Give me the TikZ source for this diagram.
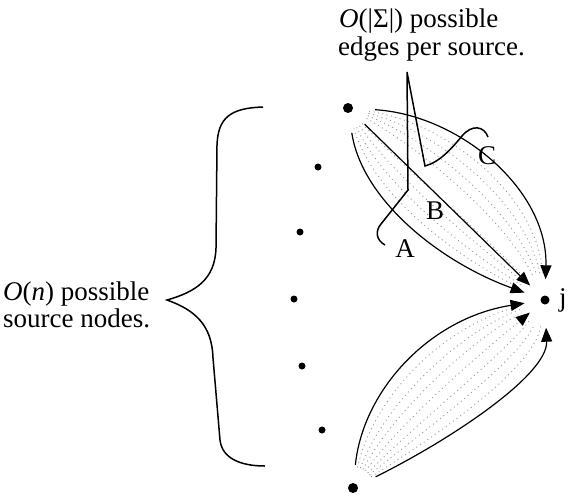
\documentclass[tikz,border=0pt]{standalone}
\usepackage{fontspec}
\setmainfont{Liberation Serif}
\usetikzlibrary{arrows.meta,calc}
\begin{document}
\begin{tikzpicture}[x=1pt,y=-1pt,
  bigdot/.style={circle,fill=black,inner sep=0pt,minimum size=10pt},
  smalldot/.style={circle,fill=black,inner sep=0pt,minimum size=7pt},
  edge/.style={line width=1.2pt,-{Triangle[length=14pt,width=11pt]}},
  fan/.style={gray!80,line width=0.9pt,dash pattern=on 1pt off 3.5pt},
  lbl/.style={font=\fontsize{27}{28}\selectfont,inner sep=0pt},
  thick line/.style={line width=1.5pt}]
\useasboundingbox (0,0) rectangle (569,499);
% nodes
\node[bigdot] (s1) at (348,108) {};
\node[smalldot] (d2) at (318,167) {};
\node[smalldot] (d3) at (300,232) {};
\node[smalldot] (d4) at (294,299) {};
\node[smalldot] (d5) at (302,366) {};
\node[smalldot] (d6) at (322,430) {};
\node[bigdot] (s7) at (353,488) {};
\node[bigdot,minimum size=9pt] (j) at (545,300) {};
\node[lbl,anchor=west] (jl) at (559,300) {j};
% control points of the top family
\coordinate (a1) at (362,200); \coordinate (a2) at (440,262);
\coordinate (c1) at (460,115); \coordinate (c2) at (548,190);
% control points of the bottom family
\coordinate (l1) at (363,390); \coordinate (l2) at (430,318);
\coordinate (r1) at (450,440); \coordinate (r2) at (548,375);
% dotted fans
\foreach \t in {0.1,0.2,0.3,0.4,0.6,0.7,0.8,0.9}{
  \draw[fan,shorten <=16pt,shorten >=22pt] (s1) .. controls ($(a1)!\t!(c1)$) and ($(a2)!\t!(c2)$) .. (j);
}
\foreach \t in {0.12,0.25,0.37,0.63,0.75,0.88}{
  \draw[fan,shorten <=16pt,shorten >=22pt] (s7) .. controls ($(l1)!\t!(r1)$) and ($(l2)!\t!(r2)$) .. (j);
}
\draw[fan,shorten <=16pt,shorten >=15pt,-{Triangle[black,length=14pt,width=11pt]}] (s7) .. controls ($(l1)!0.5!(r1)$) and ($(l2)!0.5!(r2)$) .. (j);
% solid edges, top source
\draw[edge,shorten <=20pt,shorten >=17pt] (s1) .. controls (a1) and (a2) .. (j);
\draw[edge,shorten <=18pt,shorten >=16pt] (s1) -- (j);
\draw[edge,shorten <=22pt,shorten >=16pt] (s1) .. controls (c1) and (c2) .. (j);
% solid edges, bottom source
\draw[edge,shorten <=18pt,shorten >=16pt] (s7) .. controls (l1) and (l2) .. (j);
\draw[edge,shorten <=20pt,shorten >=23pt] (s7) .. controls (r1) and (r2) .. (j);
% edge labels
\node[lbl] (la) at (405,249) {A};
\node[lbl] (lb) at (435,211) {B};
\node[lbl] (lc) at (487,156) {C};
% pointer line
\draw[thick line,line join=miter] (385,245) .. controls (376,240) and (375,231) .. (381,224) -- (408,190) -- (407,72) -- (425,166) .. controls (440,162) and (452,148) .. (462,136) .. controls (472,124) and (484,126) .. (488,137);
% top label
\node[lbl,anchor=base west] (t1) at (339,27) {\textit{O}(|Σ|) possible};
\node[lbl,anchor=base west] (t2) at (338,55) {edges per source.};
% brace
\draw[thick line] (263,107) .. controls (230,108) and (218,118) .. (217,145) -- (216,248) .. controls (215,280) and (195,292) .. (167,300) .. controls (195,310) and (212,325) .. (213,358) -- (220,440) .. controls (222,458) and (240,466) .. (265,466);
% left label
\node[lbl,anchor=base west] (n1) at (3,300) {\textit{O}(\textit{n}) possible};
\node[lbl,anchor=base west] (n2) at (3,327) {source nodes.};
\end{tikzpicture}
\end{document}
